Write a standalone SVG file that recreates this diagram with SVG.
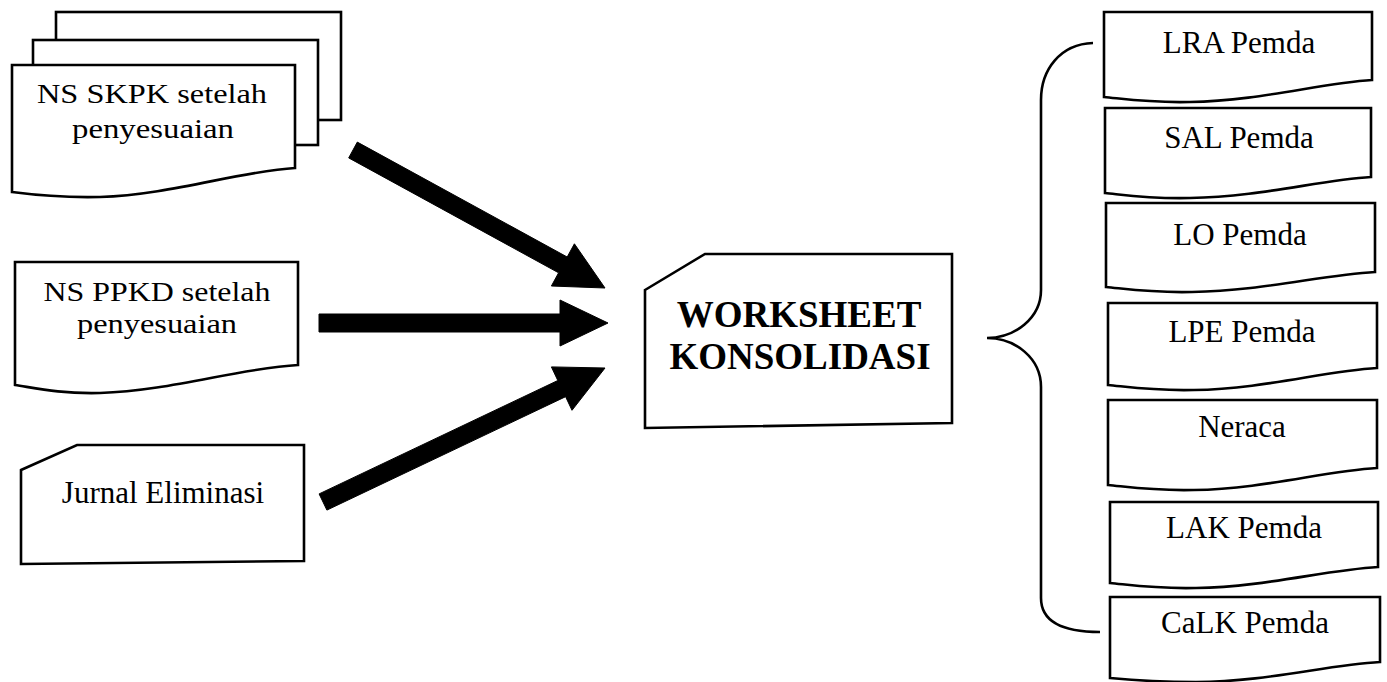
<svg xmlns="http://www.w3.org/2000/svg" width="1387" height="682" viewBox="0 0 1387 682">
<style>
.box{fill:#fff;stroke:#000;stroke-width:2.6;stroke-linejoin:miter}
.t{font-family:"Liberation Serif","Times New Roman",serif;font-size:31px;fill:#000;text-anchor:middle}
.t2{font-family:"Liberation Serif","Times New Roman",serif;font-size:28px;fill:#000;text-anchor:middle}
.b{font-family:"Liberation Serif","Times New Roman",serif;font-size:37px;font-weight:bold;fill:#000;text-anchor:middle}
.arr{fill:#000;stroke:#000;stroke-width:1}
.brace{fill:none;stroke:#000;stroke-width:2.6}
</style>
<rect width="1387" height="682" fill="#fff"/>
<g id="ns-skpk">
<rect class="box" x="56" y="12" width="285" height="108"/>
<rect class="box" x="33" y="40" width="285" height="105"/>
<path class="box" d="M12,65 H295 V168 C240,171 170,195 100,197 C60,198 35,195 12,192 Z"/>
<text class="t2" x="152" y="103" textLength="230" lengthAdjust="spacingAndGlyphs">NS SKPK setelah</text>
<text class="t2" x="153" y="138" textLength="162" lengthAdjust="spacingAndGlyphs">penyesuaian</text>
</g>
<g id="ns-ppkd">
<path class="box" d="M15,262 H298 V365 C240,368 170,391 100,393 C60,394 35,388 15,385 Z"/>
<text class="t2" x="157" y="301" textLength="227" lengthAdjust="spacingAndGlyphs">NS PPKD setelah</text>
<text class="t2" x="157" y="333" textLength="160" lengthAdjust="spacingAndGlyphs">penyesuaian</text>
</g>
<g id="jurnal">
<path class="box" d="M21,470 L77,445 H304 V561 L21,564 Z"/>
<text class="t" x="163" y="503">Jurnal Eliminasi</text>
</g>
<g id="worksheet">
<path class="box" d="M645,290 L705,254 H952 V423 L645,428 Z"/>
<text class="b" x="799" y="327">WORKSHEET</text>
<text class="b" x="800" y="369">KONSOLIDASI</text>
</g>
<g id="connectors">
<polygon class="arr" points="357.3,142.1 567.2,257.0 574.4,243.8 605,288 551.4,286.0 558.6,272.8 348.7,157.9"/>
<polygon class="arr" points="319,314 560,314 560,300 608,323 560,346 560,332 319,332"/>
<polygon class="arr" points="319.1,493.9 557.8,380.5 551.4,366.9 605,368 572,410.3 565.6,396.7 326.9,510.1"/>
<path class="brace" d="M1093,43 C1060,44 1041,70 1041,100 V290 C1041,318 1015,338 987,338 C1015,338 1041,358 1041,387 V598 C1041,620 1060,632 1100,632"/>
</g>
<g id="lra">
<path class="box" d="M1104,12 H1372 V80 C1320,83 1260,101 1190,102 C1150,103 1125,99 1104,97 Z"/>
<text class="t" x="1239" y="53">LRA Pemda</text>
</g>
<g id="sal">
<path class="box" d="M1105,108 H1371 V177 C1320,180 1260,197 1190,198 C1150,199 1125,195 1105,193 Z"/>
<text class="t" x="1239" y="148">SAL Pemda</text>
</g>
<g id="lo">
<path class="box" d="M1106,203 H1375 V272 C1322,275 1262,291 1192,292 C1152,293 1127,289 1106,287 Z"/>
<text class="t" x="1240" y="245">LO Pemda</text>
</g>
<g id="lpe">
<path class="box" d="M1108,303 H1377 V368 C1324,371 1264,389 1194,390 C1154,391 1129,387 1108,385 Z"/>
<text class="t" x="1242" y="342">LPE Pemda</text>
</g>
<g id="neraca">
<path class="box" d="M1108,400 H1377 V468 C1324,471 1264,489 1194,490 C1154,491 1129,487 1108,485 Z"/>
<text class="t" x="1242" y="437">Neraca</text>
</g>
<g id="lak">
<path class="box" d="M1110,502 H1378 V567 C1325,570 1265,587 1196,588 C1156,589 1131,585 1110,583 Z"/>
<text class="t" x="1244" y="538">LAK Pemda</text>
</g>
<g id="calk">
<path class="box" d="M1110,597 H1380 V662 C1326,665 1266,682 1196,682 C1156,682 1131,680 1110,678 Z"/>
<text class="t" x="1245" y="633">CaLK Pemda</text>
</g>
</svg>
